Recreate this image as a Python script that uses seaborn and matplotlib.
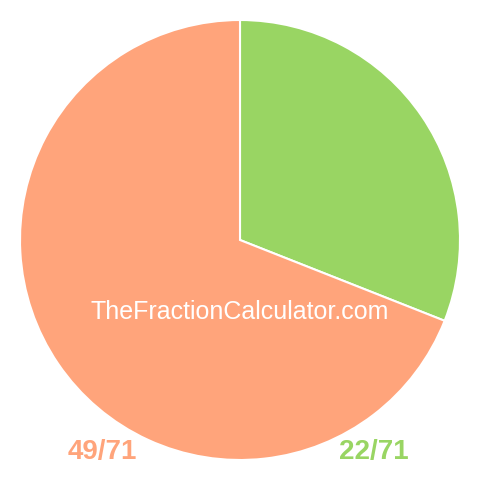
import matplotlib
matplotlib.use("Agg")
import matplotlib.pyplot as plt
import seaborn as sns

# fraction parts, drawn clockwise from 12 o'clock
labels = ["22/71", "49/71"]
values = [22, 49]
colors = ["#99D563", "#FFA47B"]

sns.set_theme(style="white")
plt.rcParams['font.family'] = ['Liberation Sans', 'DejaVu Sans']

fig = plt.figure(figsize=(4.8, 4.8), dpi=100)
ax = fig.add_axes([0, 0, 1, 1])

ax.pie(values, colors=colors, startangle=90, counterclock=False, radius=1.0,
       wedgeprops=dict(edgecolor="white", linewidth=1.5))

r = 240 / 220
ax.set_xlim(-r, r)
ax.set_ylim(-r, r)
ax.set_aspect("equal")
ax.axis("off")

# fraction labels under the pie
ax.text(-0.627, -0.965, labels[1], color=colors[1], fontsize=20,
        fontweight="bold", ha="center", va="center")
ax.text(0.609, -0.965, labels[0], color=colors[0], fontsize=20,
        fontweight="bold", ha="center", va="center")

ax.text(0, -0.327, "TheFractionCalculator.com", color="white", fontsize=18,
        ha="center", va="center")

fig.savefig("out.png", dpi=100, facecolor="white")
